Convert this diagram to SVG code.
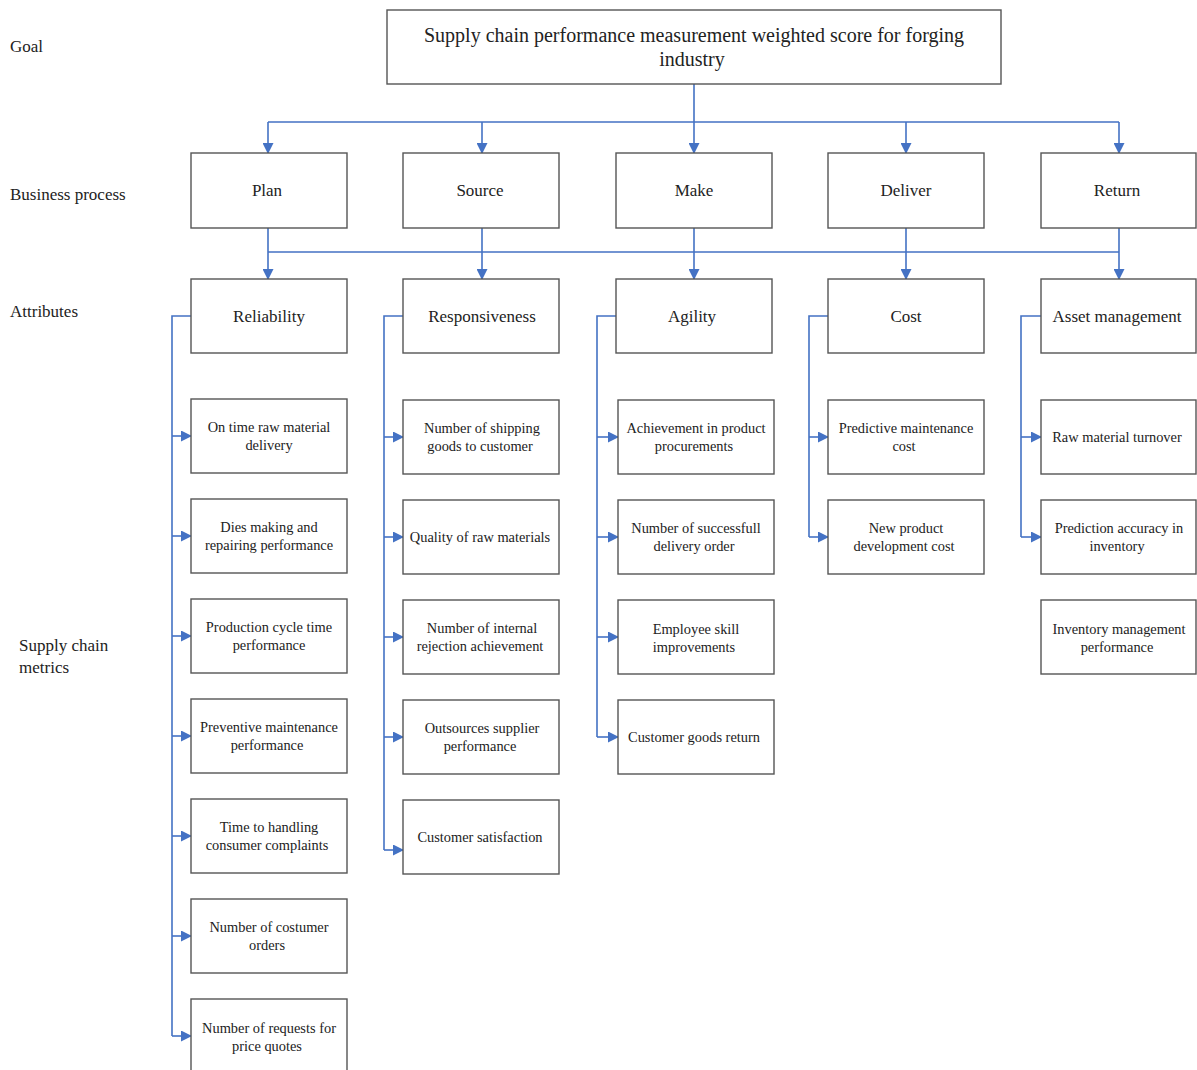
<svg xmlns="http://www.w3.org/2000/svg" width="1197" height="1070" viewBox="0 0 1197 1070">
<defs>
<marker id="ah" markerUnits="userSpaceOnUse" markerWidth="11" markerHeight="11" viewBox="0 0 11 11" refX="10" refY="5.5" orient="auto">
<path d="M0,0 L11,5.5 L0,11 Z" fill="#4472C4"/>
</marker>
<style>
.b{fill:#fff;stroke:#555;stroke-width:1.4}
.c{fill:none;stroke:#4472C4;stroke-width:1.6}
.a{marker-end:url(#ah)}
text{font-family:"Liberation Serif","Times New Roman",serif;fill:#222;text-anchor:middle}
.g{font-size:20px}
.p{font-size:17px}
.m{font-size:14.4px}
.l{font-size:17px;text-anchor:start}
</style>
</defs>
<rect width="1197" height="1070" fill="#fff"/>
<g id="labels">
<text class="l" x="10" y="52">Goal</text>
<text class="l" x="10" y="200">Business process</text>
<text class="l" x="10" y="317">Attributes</text>
<text class="l" x="19" y="651">Supply chain</text>
<text class="l" x="19" y="673">metrics</text>
</g>
<g id="connectors">
<path class="c" d="M694,84 V122 M268,122 H1119"/>
<path class="c a" d="M268,122 V153"/>
<path class="c a" d="M482,122 V153"/>
<path class="c a" d="M694,122 V153"/>
<path class="c a" d="M906,122 V153"/>
<path class="c a" d="M1119,122 V153"/>
<path class="c" d="M268,228 V252 M482,228 V252 M694,228 V252 M906,228 V252 M1119,228 V252 M268,252 H1119"/>
<path class="c a" d="M268,252 V279"/>
<path class="c a" d="M482,252 V279"/>
<path class="c a" d="M694,252 V279"/>
<path class="c a" d="M906,252 V279"/>
<path class="c a" d="M1119,252 V279"/>
<path class="c" d="M191,316 H172 V1036"/>
<path class="c a" d="M172,436 H191"/>
<path class="c a" d="M172,536 H191"/>
<path class="c a" d="M172,636 H191"/>
<path class="c a" d="M172,736 H191"/>
<path class="c a" d="M172,836 H191"/>
<path class="c a" d="M172,936 H191"/>
<path class="c a" d="M172,1036 H191"/>
<path class="c" d="M403,316 H384 V850"/>
<path class="c a" d="M384,437 H403"/>
<path class="c a" d="M384,537 H403"/>
<path class="c a" d="M384,637 H403"/>
<path class="c a" d="M384,737 H403"/>
<path class="c a" d="M384,850 H403"/>
<path class="c" d="M616,316 H597 V737"/>
<path class="c a" d="M597,437 H618"/>
<path class="c a" d="M597,537 H618"/>
<path class="c a" d="M597,637 H618"/>
<path class="c a" d="M597,737 H618"/>
<path class="c" d="M828,316 H809 V537"/>
<path class="c a" d="M809,437 H828"/>
<path class="c a" d="M809,537 H828"/>
<path class="c" d="M1041,316 H1021 V537"/>
<path class="c a" d="M1021,437 H1041"/>
<path class="c a" d="M1021,537 H1041"/>
</g>
<g id="goal"><rect class="b" x="387" y="10" width="614" height="74"/><text class="g" x="694" y="42">Supply chain performance measurement weighted score for forging</text><text class="g" x="692" y="66">industry</text></g>
<g id="plan"><rect class="b" x="191" y="153" width="156" height="75"/><text class="p" x="267" y="196">Plan</text></g>
<g id="source"><rect class="b" x="403" y="153" width="156" height="75"/><text class="p" x="480" y="196">Source</text></g>
<g id="make"><rect class="b" x="616" y="153" width="156" height="75"/><text class="p" x="694" y="196">Make</text></g>
<g id="deliver"><rect class="b" x="828" y="153" width="156" height="75"/><text class="p" x="906" y="196">Deliver</text></g>
<g id="return"><rect class="b" x="1041" y="153" width="155" height="75"/><text class="p" x="1117" y="196">Return</text></g>
<g id="reliability"><rect class="b" x="191" y="279" width="156" height="74"/><text class="p" x="269" y="322">Reliability</text></g>
<g id="responsiveness"><rect class="b" x="403" y="279" width="156" height="74"/><text class="p" x="482" y="322">Responsiveness</text></g>
<g id="agility"><rect class="b" x="616" y="279" width="156" height="74"/><text class="p" x="692" y="322">Agility</text></g>
<g id="cost"><rect class="b" x="828" y="279" width="156" height="74"/><text class="p" x="906" y="322">Cost</text></g>
<g id="asset"><rect class="b" x="1041" y="279" width="155" height="74"/><text class="p" x="1117" y="322">Asset management</text></g>
<g id="m-p1"><rect class="b" x="191" y="399" width="156" height="74"/><text class="m" x="269" y="432">On time raw material</text><text class="m" x="269" y="450">delivery</text></g>
<g id="m-p2"><rect class="b" x="191" y="499" width="156" height="74"/><text class="m" x="269" y="532">Dies making and</text><text class="m" x="269" y="550">repairing performance</text></g>
<g id="m-p3"><rect class="b" x="191" y="599" width="156" height="74"/><text class="m" x="269" y="632">Production cycle time</text><text class="m" x="269" y="650">performance</text></g>
<g id="m-p4"><rect class="b" x="191" y="699" width="156" height="74"/><text class="m" x="269" y="732">Preventive maintenance</text><text class="m" x="267" y="750">performance</text></g>
<g id="m-p5"><rect class="b" x="191" y="799" width="156" height="74"/><text class="m" x="269" y="832">Time to handling</text><text class="m" x="267" y="850">consumer complaints</text></g>
<g id="m-p6"><rect class="b" x="191" y="899" width="156" height="74"/><text class="m" x="269" y="932">Number of costumer</text><text class="m" x="267" y="950">orders</text></g>
<g id="m-p7"><rect class="b" x="191" y="999" width="156" height="74"/><text class="m" x="269" y="1033">Number of requests for</text><text class="m" x="267" y="1051">price quotes</text></g>
<g id="m-s1"><rect class="b" x="403" y="400" width="156" height="74"/><text class="m" x="482" y="433">Number of shipping</text><text class="m" x="480" y="451">goods to customer</text></g>
<g id="m-s2"><rect class="b" x="403" y="500" width="156" height="74"/><text class="m" x="480" y="542">Quality of raw materials</text></g>
<g id="m-s3"><rect class="b" x="403" y="600" width="156" height="74"/><text class="m" x="482" y="633">Number of internal</text><text class="m" x="480" y="651">rejection achievement</text></g>
<g id="m-s4"><rect class="b" x="403" y="700" width="156" height="74"/><text class="m" x="482" y="733">Outsources supplier</text><text class="m" x="480" y="751">performance</text></g>
<g id="m-s5"><rect class="b" x="403" y="800" width="156" height="74"/><text class="m" x="480" y="842">Customer satisfaction</text></g>
<g id="m-m1"><rect class="b" x="618" y="400" width="156" height="74"/><text class="m" x="696" y="433">Achievement in product</text><text class="m" x="694" y="451">procurements</text></g>
<g id="m-m2"><rect class="b" x="618" y="500" width="156" height="74"/><text class="m" x="696" y="533">Number of successfull</text><text class="m" x="694" y="551">delivery order</text></g>
<g id="m-m3"><rect class="b" x="618" y="600" width="156" height="74"/><text class="m" x="696" y="634">Employee skill</text><text class="m" x="694" y="652">improvements</text></g>
<g id="m-m4"><rect class="b" x="618" y="700" width="156" height="74"/><text class="m" x="694" y="742">Customer goods return</text></g>
<g id="m-c1"><rect class="b" x="828" y="400" width="156" height="74"/><text class="m" x="906" y="433">Predictive maintenance</text><text class="m" x="904" y="451">cost</text></g>
<g id="m-c2"><rect class="b" x="828" y="500" width="156" height="74"/><text class="m" x="906" y="533">New product</text><text class="m" x="904" y="551">development cost</text></g>
<g id="m-a1"><rect class="b" x="1041" y="400" width="155" height="74"/><text class="m" x="1117" y="442">Raw material turnover</text></g>
<g id="m-a2"><rect class="b" x="1041" y="500" width="155" height="74"/><text class="m" x="1119" y="533">Prediction accuracy in</text><text class="m" x="1117" y="551">inventory</text></g>
<g id="m-a3"><rect class="b" x="1041" y="600" width="155" height="74"/><text class="m" x="1119" y="634">Inventory management</text><text class="m" x="1117" y="652">performance</text></g>
</svg>
